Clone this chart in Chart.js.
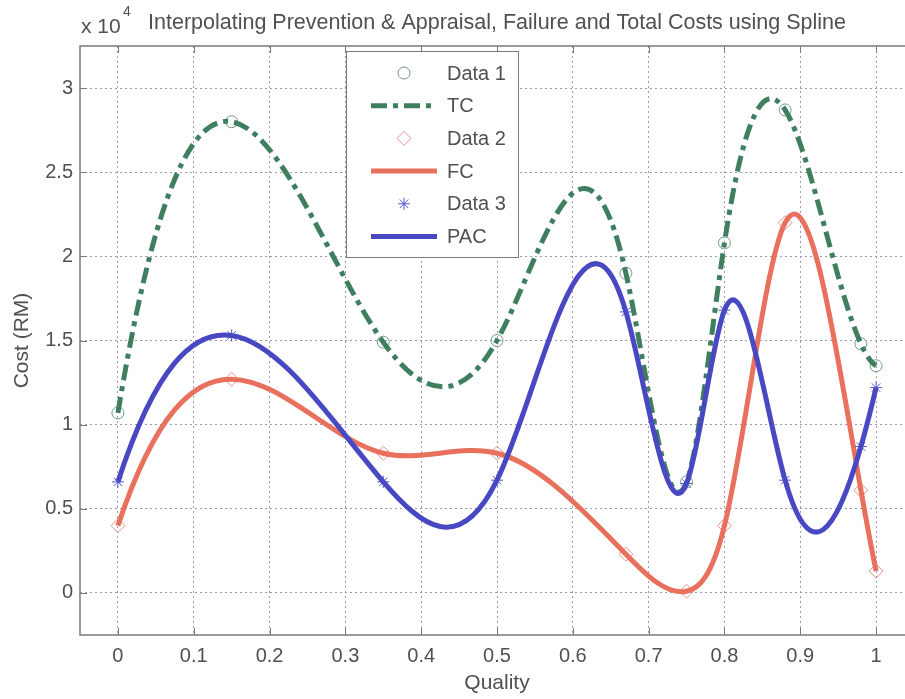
<!DOCTYPE html>
<html>
<head>
<meta charset="utf-8">
<title>Quality costs</title>
<script src="https://cdn.jsdelivr.net/npm/chart.js@4.4.1/dist/chart.umd.min.js"></script>
<style>
	html, body { margin: 0; padding: 0; background: #fff; overflow: hidden; }
	#wrap { position: relative; width: 940px; height: 699px; }
</style>
</head>
<body>
<div id="wrap"><canvas id="cost-chart"></canvas></div>
<script>
"use strict";

// measured costs (RM) at each quality level
const quality = [0, 0.15, 0.35, 0.5, 0.67, 0.75, 0.8, 0.88, 0.98, 1];
const totalCost = [10700, 28000, 14900, 15000, 19000, 6600, 20800, 28700, 14800, 13500];
const failureCost = [4000, 12700, 8300, 8300, 2300, 100, 4000, 22000, 6100, 1300];
const preventionCost = [6600, 15300, 6600, 6700, 16700, 6500, 16800, 6700, 8700, 12200];

const qualityTicks = [0, 0.1, 0.2, 0.3, 0.4, 0.5, 0.6, 0.7, 0.8, 0.9, 1];
const costTicks = [0, 5000, 10000, 15000, 20000, 25000, 30000];

const FONT = "'Liberation Sans', Arial, sans-serif";
const TEXT = '#505050';

function toPoints(ys) {
	return quality.map((q, i) => ({ x: q, y: ys[i] }));
}

// slopes of a not-a-knot cubic spline through (xs, ys)
function splineSlopes(xs, ys) {
	const n = xs.length;
	const h = [], d = [];
	for (let i = 0; i < n - 1; i++) {
		h.push(xs[i + 1] - xs[i]);
		d.push((ys[i + 1] - ys[i]) / h[i]);
	}
	const A = [];
	const b = [];
	for (let i = 0; i < n; i++) { A.push(new Array(n).fill(0)); b.push(0); }

	A[0][0] = 1 / (h[0] * h[0]);
	A[0][1] = 1 / (h[0] * h[0]) - 1 / (h[1] * h[1]);
	A[0][2] = -1 / (h[1] * h[1]);
	b[0] = 2 * d[0] / (h[0] * h[0]) - 2 * d[1] / (h[1] * h[1]);

	for (let i = 1; i < n - 1; i++) {
		A[i][i - 1] = h[i];
		A[i][i] = 2 * (h[i - 1] + h[i]);
		A[i][i + 1] = h[i - 1];
		b[i] = 3 * (h[i] * d[i - 1] + h[i - 1] * d[i]);
	}

	const k = n - 2;
	A[n - 1][n - 3] = 1 / (h[k - 1] * h[k - 1]);
	A[n - 1][n - 2] = 1 / (h[k - 1] * h[k - 1]) - 1 / (h[k] * h[k]);
	A[n - 1][n - 1] = -1 / (h[k] * h[k]);
	b[n - 1] = 2 * d[k - 1] / (h[k - 1] * h[k - 1]) - 2 * d[k] / (h[k] * h[k]);

	// gaussian elimination with partial pivoting
	for (let c = 0; c < n; c++) {
		let p = c;
		for (let r = c + 1; r < n; r++) {
			if (Math.abs(A[r][c]) > Math.abs(A[p][c])) p = r;
		}
		[A[c], A[p]] = [A[p], A[c]];
		[b[c], b[p]] = [b[p], b[c]];
		for (let r = c + 1; r < n; r++) {
			const f = A[r][c] / A[c][c];
			if (!f) continue;
			for (let j = c; j < n; j++) A[r][j] -= f * A[c][j];
			b[r] -= f * b[c];
		}
	}
	const m = new Array(n).fill(0);
	for (let r = n - 1; r >= 0; r--) {
		let s = b[r];
		for (let j = r + 1; j < n; j++) s -= A[r][j] * m[j];
		m[r] = s / A[r][r];
	}
	return m;
}

// turns the bezier line of a dataset into the exact cubic spline
const splinePlugin = {
	id: 'splineCurve',
	beforeDatasetDraw(chart, args) {
		const ds = chart.data.datasets[args.index];
		if (!ds.spline) return;
		const line = args.meta.dataset;
		line.updateControlPoints(chart.chartArea, 'x');
		const pts = line.points;
		const xs = ds.data.map(p => p.x);
		const ys = ds.data.map(p => p.y);
		const m = splineSlopes(xs, ys);
		const sx = chart.scales.x;
		const sy = chart.scales.y;
		for (let i = 0; i < pts.length; i++) {
			if (i < pts.length - 1) {
				const h = xs[i + 1] - xs[i];
				pts[i].cp2x = sx.getPixelForValue(xs[i] + h / 3);
				pts[i].cp2y = sy.getPixelForValue(ys[i] + m[i] * h / 3);
			}
			if (i > 0) {
				const h = xs[i] - xs[i - 1];
				pts[i].cp1x = sx.getPixelForValue(xs[i] - h / 3);
				pts[i].cp1y = sy.getPixelForValue(ys[i] - m[i] * h / 3);
			}
		}
		line._path = undefined;
	}
};

// axes box, inward ticks, title and the legend box
const decorPlugin = {
	id: 'decor',
	afterDraw(chart) {
		const ctx = chart.ctx;
		const area = chart.chartArea;
		const sx = chart.scales.x;
		const sy = chart.scales.y;

		ctx.save();
		ctx.strokeStyle = '#7a7a7a';
		ctx.lineWidth = 1.5;
		ctx.strokeRect(area.left, area.top, area.right - area.left, area.bottom - area.top);
		ctx.lineWidth = 1;
		ctx.beginPath();
		for (const v of qualityTicks) {
			const x = Math.round(sx.getPixelForValue(v)) + 0.5;
			ctx.moveTo(x, area.bottom); ctx.lineTo(x, area.bottom - 7);
			ctx.moveTo(x, area.top); ctx.lineTo(x, area.top + 7);
		}
		for (const v of costTicks) {
			const y = Math.round(sy.getPixelForValue(v)) + 0.5;
			ctx.moveTo(area.left, y); ctx.lineTo(area.left + 7, y);
			ctx.moveTo(area.right, y); ctx.lineTo(area.right - 7, y);
		}
		ctx.stroke();

		// title with the axis multiplier
		ctx.fillStyle = TEXT;
		ctx.textBaseline = 'alphabetic';
		ctx.textAlign = 'left';
		ctx.font = '21px ' + FONT;
		ctx.fillText('x 10', 81, 33);
		ctx.font = '14px ' + FONT;
		ctx.fillText('4', 123, 16);
		ctx.font = '21.5px ' + FONT;
		ctx.textAlign = 'center';
		ctx.fillText('Interpolating Prevention & Appraisal, Failure and Total Costs using Spline',
			(area.left + area.right) / 2, 29);

		// legend
		const box = { left: 346, top: 51, right: 518, bottom: 257 };
		ctx.fillStyle = '#fff';
		ctx.fillRect(box.left, box.top, box.right - box.left, box.bottom - box.top);
		ctx.strokeStyle = '#7a7a7a';
		ctx.lineWidth = 1;
		ctx.strokeRect(box.left + 0.5, box.top + 0.5, box.right - box.left, box.bottom - box.top);
		ctx.font = '20px ' + FONT;
		ctx.textAlign = 'left';
		ctx.textBaseline = 'middle';
		chart.data.datasets.forEach((ds, i) => {
			const y = 73 + i * 32.7;
			if (ds.showLine === false) {
				ctx.strokeStyle = ds.pointBorderColor;
				ctx.fillStyle = 'rgba(0,0,0,0)';
				ctx.lineWidth = ds.pointBorderWidth;
				Chart.helpers.drawPoint(ctx, {
					pointStyle: ds.pointStyle, radius: ds.pointRadius,
					rotation: 0, borderWidth: ds.pointBorderWidth
				}, 404, y);
			} else {
				ctx.strokeStyle = ds.borderColor;
				ctx.lineWidth = ds.borderWidth;
				ctx.lineCap = 'butt';
				ctx.setLineDash(ds.borderDash || []);
				ctx.beginPath();
				ctx.moveTo(371, y); ctx.lineTo(437, y);
				ctx.stroke();
				ctx.setLineDash([]);
			}
			ctx.fillStyle = TEXT;
			ctx.fillText(ds.label, 447, y + 1);
		});
		ctx.restore();
	}
};

function markerSet(label, ys, style, radius, color, order) {
	return {
		label: label,
		data: toPoints(ys),
		showLine: false,
		pointStyle: style,
		pointRadius: radius,
		pointBorderWidth: 1,
		pointBorderColor: color,
		pointBackgroundColor: 'rgba(0,0,0,0)',
		order: order
	};
}

function curveSet(label, ys, color, dash, order) {
	return {
		label: label,
		data: toPoints(ys),
		spline: true,
		tension: 0.4,
		borderColor: color,
		borderWidth: 5,
		borderDash: dash,
		borderCapStyle: 'butt',
		pointRadius: 0,
		fill: false,
		order: order
	};
}

const ctx = document.querySelector('#cost-chart').getContext('2d');
new Chart(ctx, {
	type: 'line',
	data: {
		datasets: [
			markerSet('Data 1', totalCost, 'circle', 6, '#6f9c86', 6),
			curveSet('TC', totalCost, '#3f7f5f', [16, 6, 5, 6], 5),
			markerSet('Data 2', failureCost, 'rectRot', 7, '#e99488', 4),
			curveSet('FC', failureCost, '#e8705c', [], 3),
			markerSet('Data 3', preventionCost, 'star', 6, '#5555d0', 2),
			curveSet('PAC', preventionCost, '#4848c2', [], 1)
		]
	},
	options: {
		responsive: true,
		maintainAspectRatio: false,
		animation: false,
		layout: { padding: { top: 46, right: 26, left: 0, bottom: 0 } },
		plugins: {
			legend: { display: false },
			tooltip: { enabled: false }
		},
		scales: {
			x: {
				type: 'linear',
				min: -0.05,
				max: 1.05,
				afterBuildTicks: scale => { scale.ticks = qualityTicks.map(v => ({ value: v })); },
				afterFit: scale => { scale.height = 64; },
				grid: { color: '#9a9ab4', lineWidth: 1, drawTicks: false },
				border: { display: false, dash: [2, 3] },
				ticks: {
					padding: 9,
					color: TEXT,
					font: { family: FONT, size: 20 },
					maxRotation: 0,
					callback: v => String(v)
				},
				title: {
					display: true,
					text: 'Quality',
					color: TEXT,
					font: { family: FONT, size: 21 },
					padding: { top: 0, bottom: 3 }
				}
			},
			y: {
				type: 'linear',
				min: -2500,
				max: 32500,
				afterBuildTicks: scale => { scale.ticks = costTicks.map(v => ({ value: v })); },
				afterFit: scale => { scale.width = 80; },
				grid: { color: '#9a9ab4', lineWidth: 1, drawTicks: false },
				border: { display: false, dash: [2, 3] },
				ticks: {
					padding: 7,
					color: TEXT,
					font: { family: FONT, size: 20 },
					callback: v => String(v / 10000)
				},
				title: {
					display: true,
					text: 'Cost (RM)',
					color: TEXT,
					font: { family: FONT, size: 21 },
					padding: { top: 10, bottom: 0 }
				}
			}
		}
	},
	plugins: [splinePlugin, decorPlugin]
});
</script>
</body>
</html>
